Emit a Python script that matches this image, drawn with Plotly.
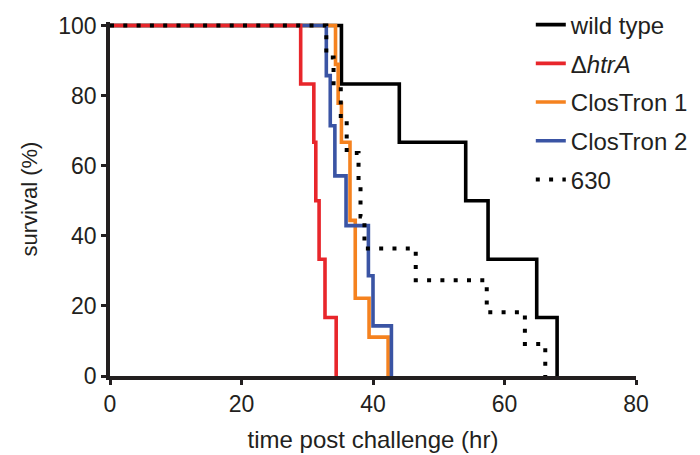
import plotly.graph_objects as go

# ---- data (time in hr, survival in %) ----
wt_time = [0, 35.2, 44.0, 54.1, 57.5, 64.9, 68.0]
wt_surv = [100, 83.3, 66.7, 50.0, 33.3, 16.7, 0]

htra_time = [0, 29.0, 31.0, 31.3, 31.8, 32.7, 34.4]
htra_surv = [100, 83.3, 66.7, 50.0, 33.3, 16.7, 0]

ct1_time = [0, 34.3, 34.7, 35.2, 36.5, 37.3, 39.4, 42.3]
ct1_surv = [100, 88.9, 77.8, 66.7, 44.4, 22.2, 11.1, 0]

ct2_time = [0, 32.9, 33.5, 34.2, 35.9, 39.3, 40.0, 42.8]
ct2_surv = [100, 85.7, 71.4, 57.1, 42.9, 28.6, 14.3, 0]

s630_time = [0, 32.9, 34.0, 35.1, 36.0, 37.8, 38.1, 38.7, 46.5, 57.3, 63.1, 66.2]
s630_surv = [100, 90.9, 81.8, 72.7, 63.6, 54.5, 45.5, 36.4, 27.3, 18.2, 9.1, 0]

x_ticks = [0, 20, 40, 60, 80]
y_ticks = [0, 20, 40, 60, 80, 100]

FONT = "Arial, Liberation Sans, Helvetica, sans-serif"
AXC = "#231f20"

fig = go.Figure()

def add(x, y, name, color, rank, dash="solid", width=3.6):
    fig.add_trace(go.Scatter(
        x=x, y=y, mode="lines", name=name, line_shape="hv",
        line=dict(color=color, width=width, dash=dash),
        legendrank=rank, legendgroup=name, hoverinfo="skip"))

# drawing order: black, orange, blue, red, dotted
add(wt_time, wt_surv, "wild type", "#000000", 1)
add(ct1_time, ct1_surv, "ClosTron 1", "#f5821f", 3)
add(ct2_time, ct2_surv, "ClosTron 2", "#3a54a4", 4)
add(htra_time, htra_surv, "Δ<i>htrA</i>", "#e8262b", 2)
add(s630_time, s630_surv, "630", "#000000", 5, dash="4px,9.3px", width=4)

fig.update_layout(
    width=700, height=455,
    margin=dict(l=102, r=72, t=13.5, b=87, autoexpand=False),
    paper_bgcolor="white", plot_bgcolor="white",
    font=dict(family=FONT, color="#231f20", size=22),
    showlegend=True,
    legend=dict(x=0.80, y=1.055, xanchor="left", yanchor="top",
                bgcolor="rgba(0,0,0,0)", borderwidth=0,
                font=dict(size=24, family=FONT, color="#231f20"),
                tracegroupgap=4.5, itemwidth=30),
    xaxis=dict(range=[0, 80], tickvals=x_ticks, ticks="outside", ticklen=5,
               tickwidth=3, tickcolor=AXC, showline=True, linewidth=3.5,
               linecolor=AXC, showgrid=False, zeroline=False,
               tickfont=dict(size=23),
               title=dict(text="time post challenge (hr)", font=dict(size=24),
                          standoff=16)),
    yaxis=dict(range=[0, 101], tickvals=y_ticks, ticks="outside", ticklen=5,
               tickwidth=3, tickcolor=AXC, showline=True, linewidth=3.5,
               linecolor=AXC, showgrid=False, zeroline=False,
               tickfont=dict(size=23),
               title=dict(text="survival (%)", font=dict(size=22), standoff=16)),
)

fig.write_html("out.html")
